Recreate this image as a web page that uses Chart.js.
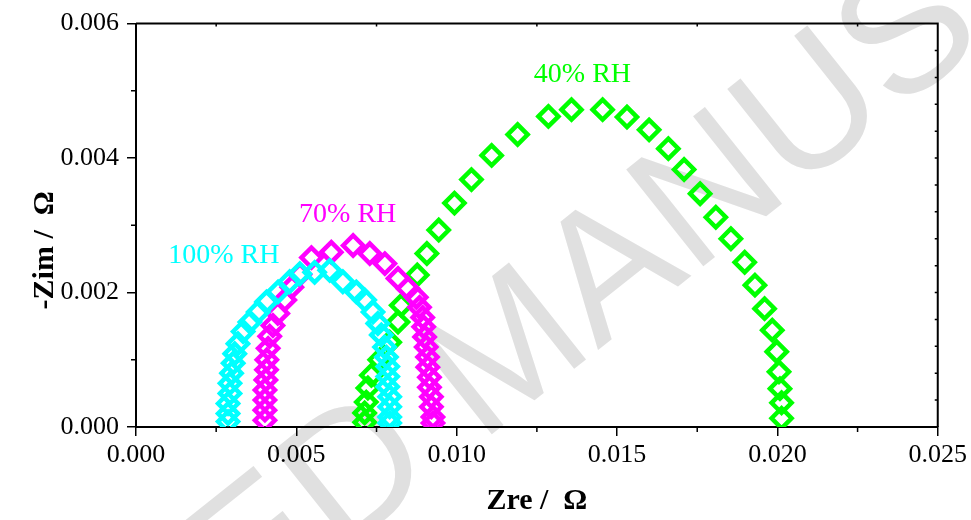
<!DOCTYPE html>
<html>
<head>
<meta charset="utf-8">
<script src="https://cdn.jsdelivr.net/npm/chart.js@4.4.1/dist/chart.umd.min.js"></script>
<style>
  body { margin: 0; background: #fff; }
  #wrap { width: 971px; height: 520px; position: relative; }
</style>
</head>
<body>
<div id="wrap"><canvas id="nyquist"></canvas></div>
<script>
// Nyquist data (Ohm)
const rh100Re = [0.00287, 0.00287, 0.00287, 0.00293, 0.00293, 0.00298, 0.00303, 0.00308, 0.00318, 0.00334, 0.00355,
                 0.00381, 0.00407, 0.00443, 0.00479, 0.00511, 0.00557, 0.00604, 0.00645, 0.00687, 0.00713, 0.00739,
                 0.00754, 0.00765, 0.00775, 0.00781, 0.00785, 0.00785, 0.00785, 0.00791, 0.00791, 0.00791, 0.00791];
const rh100Im = [0.00008, 0.00020, 0.00035, 0.00050, 0.00065, 0.00080, 0.00095, 0.00109, 0.00124, 0.00142, 0.00156,
                 0.00171, 0.00186, 0.00201, 0.00216, 0.00228, 0.00230, 0.00233, 0.00216, 0.00201, 0.00189, 0.00171,
                 0.00154, 0.00137, 0.00119, 0.00104, 0.00090, 0.00075, 0.00060, 0.00045, 0.00030, 0.00015, 0.00006];

const rh70Re = [0.00402, 0.00402, 0.00402, 0.00402, 0.00405, 0.00407, 0.00408, 0.00412, 0.00417, 0.00427, 0.00442,
                0.00464, 0.00486, 0.00511, 0.00547, 0.00609, 0.00677, 0.00729, 0.00776, 0.00817, 0.00848, 0.00874,
                0.00884, 0.00894, 0.00897, 0.00900, 0.00905, 0.00909, 0.00910, 0.00915, 0.00915, 0.00921, 0.00921,
                0.00926, 0.00926];
const rh70Im = [0.00010, 0.00025, 0.00040, 0.00055, 0.00070, 0.00085, 0.00100, 0.00117, 0.00135, 0.00151, 0.00169,
                0.00189, 0.00208, 0.00227, 0.00252, 0.00260, 0.00270, 0.00258, 0.00243, 0.00221, 0.00206, 0.00193,
                0.00178, 0.00163, 0.00149, 0.00134, 0.00119, 0.00104, 0.00089, 0.00074, 0.00059, 0.00045, 0.00030,
                0.00015, 0.00006];

const rh40Re = [0.00713, 0.00713, 0.00718, 0.00723, 0.00734, 0.00760, 0.00791, 0.00817, 0.00827, 0.00877, 0.00907,
                0.00944, 0.00993, 0.01046, 0.01109, 0.01190, 0.01286, 0.01358, 0.01455, 0.01531, 0.01600, 0.01660,
                0.01709, 0.01759, 0.01808, 0.01855, 0.01898, 0.01930, 0.01960, 0.01984, 0.01998, 0.02005, 0.02008,
                0.02013, 0.02013];
const rh40Im = [0.00007, 0.00021, 0.00037, 0.00058, 0.00077, 0.00100, 0.00126, 0.00156, 0.00181, 0.00226, 0.00258,
                0.00293, 0.00333, 0.00368, 0.00404, 0.00435, 0.00462, 0.00472, 0.00472, 0.00461, 0.00442, 0.00414,
                0.00383, 0.00347, 0.00312, 0.00280, 0.00245, 0.00211, 0.00176, 0.00144, 0.00112, 0.00082, 0.00057,
                0.00036, 0.00013];

const seriesNames = ['100% RH', '70% RH', '40% RH'];
const seriesColors = ['#00ffff', '#ff00ff', '#00ff00'];
// where each series name is written, in data units
const labelRe = [0.00274, 0.00660, 0.01392];
const labelIm = [0.00255, 0.00316, 0.00524];

const xMinorTicks = [0.0025, 0.0075, 0.0125, 0.0175, 0.0225];
const yMinorTicks = [0.001, 0.003, 0.005];

const serif = "'Liberation Serif', 'Times New Roman', serif";

function toPoints(xs, ys) {
    return xs.map((v, i) => ({ x: v, y: ys[i] }));
}

const decorations = {
    id: 'decorations',
    beforeDraw(chart) {
        // faint "accepted manuscript" stamp behind the plot
        const ctx = chart.ctx;
        ctx.save();
        ctx.translate(512, 355);
        ctx.rotate(-38.5 * Math.PI / 180);
        ctx.fillStyle = '#e0e0e0';
        ctx.font = "180px 'Liberation Sans', Arial, sans-serif";
        ctx.textAlign = 'center';
        ctx.textBaseline = 'middle';
        ctx.fillText('ACCEPTED MANUSCRIPT', 0, 0);
        ctx.restore();
    },
    afterDraw(chart) {
        const { ctx, chartArea: a, scales: { x, y } } = chart;
        ctx.save();
        ctx.strokeStyle = '#000';

        // top and right frame
        ctx.lineWidth = 2;
        ctx.beginPath();
        ctx.moveTo(a.left, a.top);
        ctx.lineTo(a.right, a.top);
        ctx.lineTo(a.right, a.bottom);
        ctx.stroke();

        // minor ticks
        ctx.lineWidth = 1.5;
        ctx.beginPath();
        xMinorTicks.forEach(v => {
            const px = x.getPixelForValue(v);
            ctx.moveTo(px, a.bottom);
            ctx.lineTo(px, a.bottom + 5);
            ctx.moveTo(px, a.top);
            ctx.lineTo(px, a.top + 3);
        });
        yMinorTicks.forEach(v => {
            const py = y.getPixelForValue(v);
            ctx.moveTo(a.left, py);
            ctx.lineTo(a.left - 5, py);
        });
        for (let k = 1; k < 15; k++) {
            const py = y.getPixelForValue(k * 0.0004);
            ctx.moveTo(a.right, py);
            ctx.lineTo(a.right - 3, py);
        }
        ctx.stroke();

        // series names
        ctx.font = '28px ' + serif;
        ctx.textAlign = 'center';
        ctx.textBaseline = 'middle';
        seriesNames.forEach((name, i) => {
            ctx.fillStyle = seriesColors[i];
            ctx.fillText(name, x.getPixelForValue(labelRe[i]), y.getPixelForValue(labelIm[i]));
        });

        // axis titles
        ctx.fillStyle = '#000';
        ctx.font = 'bold 30px ' + serif;
        ctx.fillText('Zre /  \u03A9', (a.left + a.right) / 2, a.bottom + 74);
        ctx.translate(a.left - 91, (a.top + a.bottom) / 2 + 25);
        ctx.rotate(-Math.PI / 2);
        ctx.fillText('-Zim /  \u03A9', 0, 0);
        ctx.restore();
    }
};

const ctx = document.getElementById('nyquist');

new Chart(ctx, {
    type: 'scatter',
    data: {
        datasets: [
            { label: seriesNames[0], data: toPoints(rh100Re, rh100Im) },
            { label: seriesNames[1], data: toPoints(rh70Re, rh70Im) },
            { label: seriesNames[2], data: toPoints(rh40Re, rh40Im) }
        ].map((ds, i) => Object.assign(ds, {
            pointStyle: 'rectRot',
            pointRadius: 10,
            pointHoverRadius: 10,
            pointBorderWidth: 4.5,
            borderColor: seriesColors[i],
            backgroundColor: 'rgba(0,0,0,0)',
            pointBackgroundColor: 'rgba(0,0,0,0)',
            clip: 0
        }))
    },
    options: {
        responsive: true,
        maintainAspectRatio: false,
        animation: false,
        layout: { padding: { top: 23, right: 32, left: 0, bottom: 0 } },
        plugins: {
            legend: { display: false },
            tooltip: { enabled: false }
        },
        scales: {
            x: {
                type: 'linear',
                min: 0,
                max: 0.025,
                afterFit: scale => { scale.height = 93; },
                ticks: {
                    stepSize: 0.005,
                    padding: 4,
                    color: '#000',
                    font: { family: serif, size: 26 },
                    callback: v => v.toFixed(3)
                },
                grid: { drawOnChartArea: false, tickLength: 9, color: '#000', lineWidth: 1.5 },
                border: { display: true, color: '#000', width: 2 }
            },
            y: {
                type: 'linear',
                min: 0,
                max: 0.006,
                afterFit: scale => { scale.width = 136; },
                ticks: {
                    stepSize: 0.002,
                    padding: 8,
                    color: '#000',
                    font: { family: serif, size: 26 },
                    callback: v => v.toFixed(3)
                },
                grid: { drawOnChartArea: false, tickLength: 9, color: '#000', lineWidth: 1.5 },
                border: { display: true, color: '#000', width: 2 }
            }
        }
    },
    plugins: [decorations]
});
</script>
</body>
</html>
